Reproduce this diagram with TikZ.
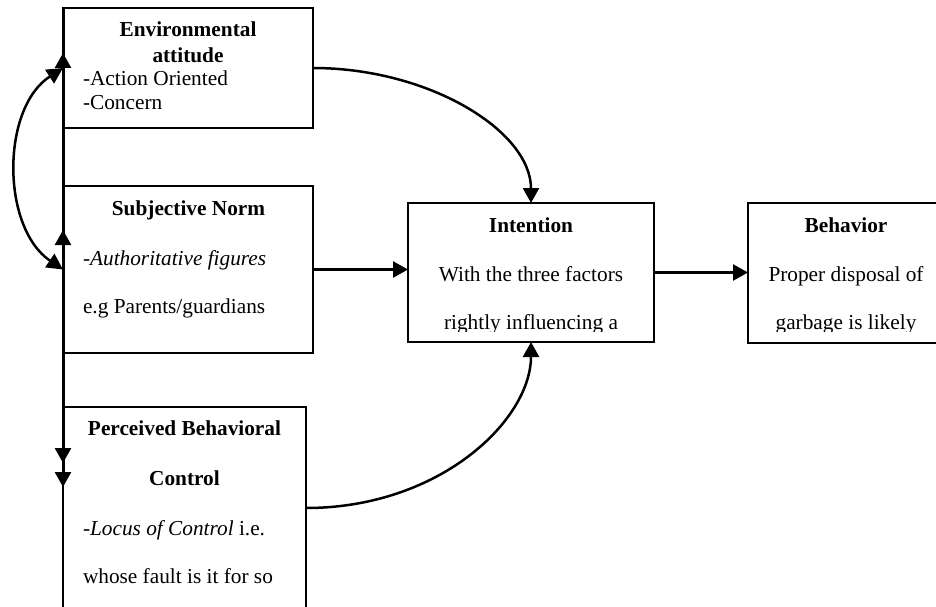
\documentclass[tikz,border=0pt]{standalone}
\usepackage{fontspec}
\setmainfont{Liberation Serif}
\usetikzlibrary{arrows.meta}
\begin{document}
\begin{tikzpicture}[x=1pt,y=-1pt,
  box/.style={draw,line width=1.8pt,rectangle,inner sep=0pt,outer sep=0pt},
  txt/.style={inner sep=0pt,outer sep=0pt,font=\fontsize{21.3}{24}\selectfont},
  ctr/.style={txt,anchor=base},
  lft/.style={txt,anchor=base west},
  arr/.style={line width=2.5pt,-{Triangle[length=15pt,width=16pt]}},
  darr/.style={line width=2.5pt,{Triangle[length=16pt,width=16pt]}-{Triangle[length=16pt,width=16pt]}},
  spine/.style={line width=3pt}]
\clip (0,0) rectangle (936,607);
\fill[white] (0,0) rectangle (936,607);
% boxes
\node[box,minimum width=250pt,minimum height=120pt] (env) at (188,68) {};
\node[box,minimum width=250pt,minimum height=167pt] (sn) at (188,269.5) {};
\node[box,minimum width=243pt,minimum height=233pt] (pbc) at (184.5,523.5) {};
\node[box,minimum width=246pt,minimum height=139pt] (int) at (531,272.5) {};
\node[box,minimum width=196pt,minimum height=140pt] (beh) at (846,273) {};
% texts
\node[ctr] (e1) at (188,36.7) {\textbf{Environmental}};
\node[ctr] (e2) at (188,62.7) {\textbf{attitude}};
\node[lft] (e3) at (83,86) {-Action Oriented};
\node[lft] (e4) at (83,110) {-Concern};
\node[ctr] (s1) at (188.5,215.7) {\textbf{Subjective Norm}};
\node[lft] (s2) at (83,265) {-\textit{Authoritative figures}};
\node[lft] (s3) at (83,313.3) {e.g Parents/guardians};
\node[ctr] (p1) at (184.5,435.7) {\textbf{Perceived Behavioral}};
\node[ctr] (p2) at (184.5,485.7) {\textbf{Control}};
\node[lft] (p3) at (83,535) {-\textit{Locus of Control} i.e.};
\node[lft] (p4) at (83,583.3) {whose fault is it for so};
\node[ctr] (i1) at (531,232.7) {\textbf{Intention}};
\node[ctr] (i2) at (531,281) {With the three factors};
\node[ctr] (b1) at (846,232.7) {\textbf{Behavior}};
\node[ctr] (b2) at (846,281) {Proper disposal of};
\begin{scope}
\clip (400,300) rectangle (944,331.5);
\node[ctr] (i3) at (531,329.5) {rightly influencing a};
\node[ctr] (b3) at (846,329.5) {garbage is likely};
\end{scope}
% spine on the left
\coordinate (top) at (63,8);
\coordinate (bot) at (63,473);
\draw[spine] (top) -- (bot);
\coordinate (u1s) at (63,100);
\coordinate (u1e) at (63,53);
\coordinate (u2s) at (63,290);
\coordinate (u2e) at (63,230);
\coordinate (d1s) at (63,420);
\coordinate (d1e) at (63,463);
\coordinate (d2s) at (63,450);
\coordinate (d2e) at (63,487);
\draw[arr] (u1s) -- (u1e);
\draw[arr] (u2s) -- (u2e);
\draw[arr] (d1s) -- (d1e);
\draw[arr] (d2s) -- (d2e);
% connectors
\draw[darr] (env.west) .. controls +(-62,40) and +(-62,-42) .. (sn.west);
\draw[arr] (env.east) .. controls +(116,0) and +(0,-72) .. (int.north);
\draw[arr] (sn.east) -- (sn.east -| int.west);
\draw[arr] (int.east) -- (int.east -| beh.west);
\draw[arr] ([yshift=15.5pt]pbc.east) .. controls +(134,0) and +(0,78) .. (int.south);
\end{tikzpicture}
\end{document}
